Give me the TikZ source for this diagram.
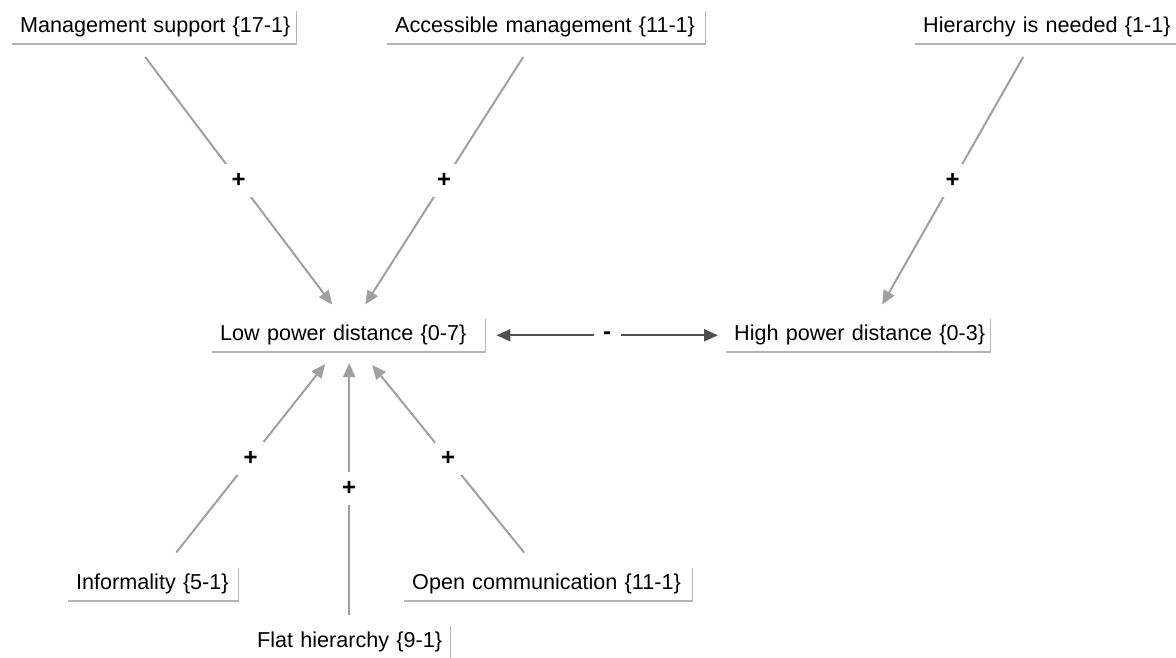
\documentclass[tikz,border=0pt]{standalone}
\usepackage{fontspec}
\setmainfont{Liberation Sans}[BoldFont={Liberation Sans Bold}]
\usetikzlibrary{arrows.meta}
\definecolor{edgegray}{HTML}{A0A0A0}
\definecolor{framegray}{HTML}{B4B4B4}
\definecolor{linkdark}{HTML}{505050}
\newcommand{\conceptlabel}[1]{\mbox{#1}}
\begin{document}
\begin{tikzpicture}[x=1pt,y=1pt,
  concept/.style={anchor=south west, text width=#1-16pt, align=left,
    inner xsep=8pt, inner ysep=6pt, text height=16pt, text depth=5pt,
    font=\fontsize{21.6}{24}\selectfont,
    append after command={
      \pgfextra{\draw[framegray,line width=1.6pt]
        (\tikzlastnode.north east) -- (\tikzlastnode.south east)
        -- (\tikzlastnode.south west);}}},
  infl/.style={draw=edgegray, line width=2pt,
    -{Triangle[length=14pt,width=12pt]}, edgegray},
  mutual/.style={draw=linkdark, line width=2pt,
    {Triangle[length=14pt,width=12pt]}-{Triangle[length=14pt,width=12pt]}, linkdark},
  sign/.style={fill=white, text=black, minimum width=27pt, minimum height=33pt,
    inner sep=0pt, font=\fontsize{24}{26}\selectfont\bfseries}
]
\useasboundingbox (0,0) rectangle (1176,-657);

% concepts
\node[concept=284pt] (ms)   at (12,-44)  {\conceptlabel{Management support \{17-1\}}};
\node[concept=318pt] (am)   at (387,-44) {\conceptlabel{Accessible management \{11-1\}}};
\node[concept=262pt] (hn)   at (915,-44) {\conceptlabel{Hierarchy is needed \{1-1\}}};
\node[concept=273pt] (low)  at (212,-352) {\conceptlabel{Low power distance \{0-7\}}};
\node[concept=264pt] (high) at (726,-352) {\conceptlabel{High power distance \{0-3\}}};
\node[concept=170pt] (inf)  at (68,-601)  {\conceptlabel{Informality \{5-1\}}};
\node[concept=288pt] (oc)   at (404,-601) {\conceptlabel{Open communication \{11-1\}}};
\node[concept=201pt] (fh)   at (249,-659) {\conceptlabel{Flat hierarchy \{9-1\}}};

% influences
\draw[infl] ([xshift=-9pt,yshift=-13pt]ms.south) --
  node[sign]{+} ([xshift=-16.5pt,yshift=14pt]low.north);
\draw[infl] ([xshift=-23pt,yshift=-13pt]am.south) --
  node[sign]{+} ([xshift=16.5pt,yshift=14pt]low.north);
\draw[infl] ([xshift=-23pt,yshift=-13pt]hn.south) --
  node[sign]{+} ([xshift=24pt,yshift=14pt]high.north);
\draw[infl] ([xshift=23pt,yshift=15pt]inf.north) --
  node[sign]{+} ([xshift=-23.5pt,yshift=-12pt]low.south);
\draw[infl] ([xshift=-0.5pt,yshift=11pt]fh.north) --
  node[sign]{+} ([xshift=0.5pt,yshift=-11pt]low.south);
\draw[infl] ([xshift=-24pt,yshift=15pt]oc.north) --
  node[sign]{+} ([xshift=23.5pt,yshift=-13pt]low.south);

% mutual link
\draw[mutual] ([xshift=11pt]low.east) -- node[sign]{-} ([xshift=-8pt]high.west);
\end{tikzpicture}
\end{document}
